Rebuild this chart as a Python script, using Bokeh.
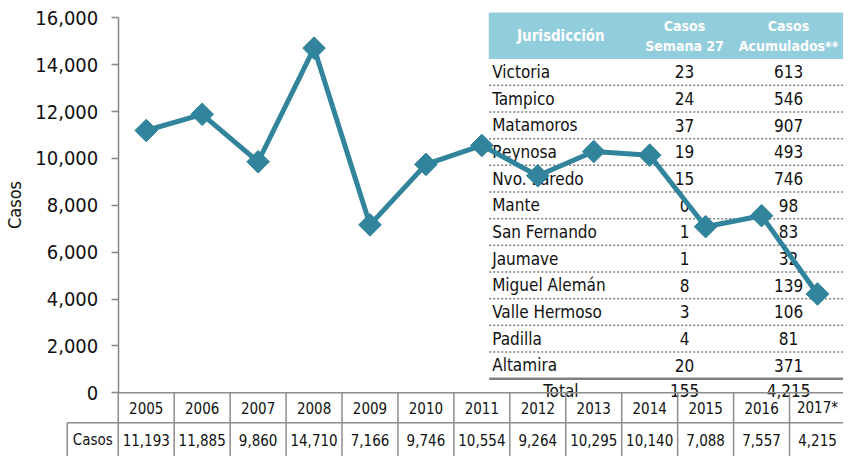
import numpy as np
from bokeh.plotting import figure
from bokeh.models import Range1d, LinearAxis, FixedTicker, NumeralTickFormatter, ColumnDataSource
from bokeh.core.properties import value
from bokeh.embed import file_html
from bokeh.resources import INLINE

# ---------------- data ----------------
years = ["2005", "2006", "2007", "2008", "2009", "2010", "2011", "2012",
         "2013", "2014", "2015", "2016", "2017*"]
casos = [11193, 11885, 9860, 14710, 7166, 9746, 10554, 9264,
         10295, 10140, 7088, 7557, 4215]
y_ticks = [0, 2000, 4000, 6000, 8000, 10000, 12000, 14000, 16000]

jurisdicciones = ["Victoria", "Tampico", "Matamoros", "Reynosa", "Nvo. Laredo",
                  "Mante", "San Fernando", "Jaumave", "Miguel Alemán",
                  "Valle Hermoso", "Padilla", "Altamira"]
semana27 = [23, 24, 37, 19, 15, 0, 1, 1, 8, 3, 4, 20]
acumulados = [613, 546, 907, 493, 746, 98, 83, 32, 139, 106, 81, 371]

# ---------------- layout constants (reference pixel space 859x472) ----------------
W, H = 843, 456
RW, RH = 859, 472
AX_X = 120                  # reference x of y axis
CW = 57                     # category width (px)
Y0 = 406                    # reference y of value 0
K = 48.5 / 2000             # px per case

TEAL = "#31849B"
GRID = "#8C8C8C"
FONT_STR = "'DejaVu Sans Condensed', 'DejaVu Sans', sans-serif"
FONT = value(FONT_STR)

p = figure(width=W, height=H, output_backend="svg", toolbar_location=None,
           x_range=Range1d(-AX_X / CW, (RW - AX_X) / CW),
           y_range=Range1d(-(RH - Y0) / K, Y0 / K),
           x_axis_location=None, y_axis_location=None, min_border=0)
p.outline_line_color = None
p.grid.grid_line_color = None
p.extra_x_ranges = {"px": Range1d(0, RW)}
p.extra_y_ranges = {"py": Range1d(RH, 0)}

# ---------------- inset table ----------------
TX0, TX1 = 498, 862
C1, C2, C3 = 501, 697, 803
p.quad(left=[TX0], right=[TX1], top=[13], bottom=[60], color="#92CDDC",
       x_range_name="px", y_range_name="py")
p.text(x=[571], y=[37], text=["Jurisdicción"],
       text_color="white", text_font=FONT, text_font_style="bold",
       text_font_size="15px", text_align="center", text_baseline="middle",
       x_range_name="px", y_range_name="py")
p.text(x=[C2, C2, C3, C3], y=[26, 47, 26, 47],
       text=["Casos", "Semana 27", "Casos", "Acumulados**"],
       text_color="white", text_font=FONT, text_font_style="bold",
       text_font_size="14px", text_align="center", text_baseline="middle",
       x_range_name="px", y_range_name="py")

n = len(jurisdicciones)
row_y = [74 + 27.6 * i for i in range(n)]
tsrc = ColumnDataSource(dict(y=row_y, name=jurisdicciones,
                             s=[str(v) for v in semana27],
                             a=[f"{v:,}" for v in acumulados]))
common = dict(text_font=FONT, text_font_size="17px", text_color="#111111",
              text_baseline="middle", x_range_name="px", y_range_name="py", source=tsrc)
p.text(x=C1, y="y", text="name", text_align="left", **common)
p.text(x=C2, y="y", text="s", text_align="center", **common)
p.text(x=C3, y="y", text="a", text_align="center", **common)

sep_y = [(row_y[i] + row_y[i + 1]) / 2 for i in range(n - 1)]
p.segment(x0=TX0, x1=TX1, y0=sep_y, y1=sep_y, line_color="#7F7F7F",
          line_width=1.5, line_dash="2 2", x_range_name="px", y_range_name="py")
bot = row_y[-1] + 13.8
p.segment(x0=[TX0], x1=[TX1], y0=[bot], y1=[bot], line_color="#808080",
          line_width=2.5, x_range_name="px", y_range_name="py")
p.text(x=[571, C2, C3], y=[404, 404, 404],
       text=["Total", str(sum(semana27)), f"{sum(acumulados):,}"],
       text_font=FONT, text_font_size="17px", text_color="#111111",
       text_align="center", text_baseline="middle",
       x_range_name="px", y_range_name="py")

# ---------------- series ----------------
xs = [i + 0.5 for i in range(len(years))]
src = ColumnDataSource(dict(x=xs, y=casos, year=years,
                            label=[f"{v:,}" for v in casos]))
p.line(x="x", y="y", source=src, line_color=TEAL, line_width=5)
p.scatter(x="x", y="y", source=src, marker="square", size=16,
          angle=np.pi / 4, color=TEAL)

# ---------------- bottom data table ----------------
nb = len(years)
p.segment(x0=[0], x1=[nb], y0=[0], y1=[0], line_color=GRID, line_width=1.5)
p.segment(x0=[68], x1=[TX1], y0=[437], y1=[437], line_color=GRID, line_width=1.5,
          x_range_name="px", y_range_name="py")
p.segment(x0=list(range(nb + 1)), x1=list(range(nb + 1)), y0=406, y1=480,
          line_color=GRID, line_width=1.5, y_range_name="py")
p.segment(x0=[68], x1=[68], y0=[437], y1=[480], line_color=GRID, line_width=1.5,
          x_range_name="px", y_range_name="py")
p.text(x="x", y=422, text="year", source=src, text_font=FONT, text_font_size="15px",
       text_color="#111111", text_align="center", text_baseline="middle",
       y_range_name="py")
p.text(x="x", y=455, text="label", source=src, text_font=FONT, text_font_size="15px",
       text_color="#111111", text_align="center", text_baseline="middle",
       y_range_name="py")
p.text(x=[94], y=[455], text=["Casos"], text_font=FONT, text_font_size="15px",
       text_color="#111111", text_align="center", text_baseline="middle",
       x_range_name="px", y_range_name="py")

# ---------------- y axis ----------------
yaxis = LinearAxis(fixed_location=0, ticker=FixedTicker(ticks=y_ticks),
                   formatter=NumeralTickFormatter(format="0,0"),
                   bounds=(0, 16000), axis_label="Casos")
yaxis.axis_line_color = "#868686"
yaxis.axis_line_width = 1.5
yaxis.major_tick_line_color = "#868686"
yaxis.major_tick_line_width = 1.5
yaxis.major_tick_out = 7
yaxis.major_tick_in = 0
yaxis.minor_tick_out = 0
yaxis.minor_tick_in = 0
yaxis.major_label_standoff = 13
yaxis.major_label_text_font = FONT_STR
yaxis.major_label_text_font_size = "20px"
yaxis.major_label_text_color = "#111111"
yaxis.axis_label_text_font = FONT_STR
yaxis.axis_label_text_font_size = "18px"
yaxis.axis_label_text_font_style = "normal"
yaxis.axis_label_text_color = "#111111"
yaxis.axis_label_standoff = 8
p.add_layout(yaxis, "left")

open("out.html", "w").write(file_html(p, INLINE))
